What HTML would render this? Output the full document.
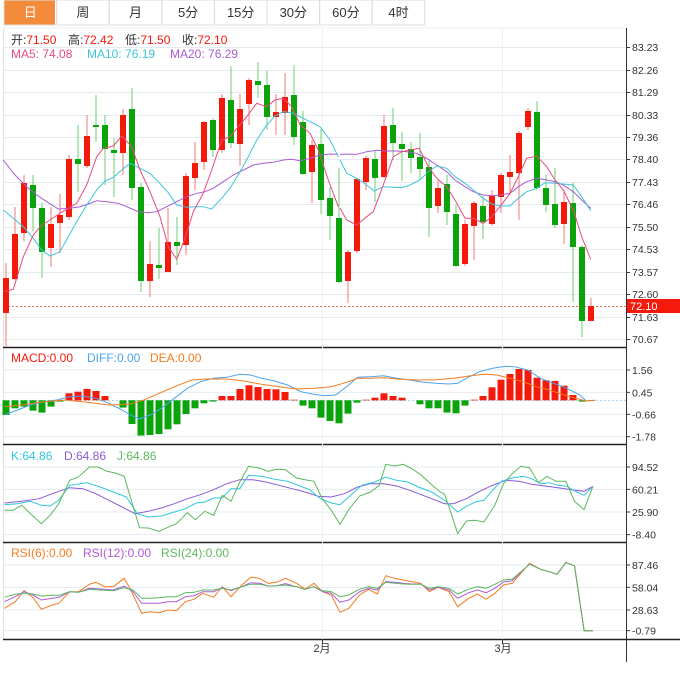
<!DOCTYPE html>
<html><head><meta charset="utf-8"><style>
body{margin:0;background:#fff;width:680px;height:669px;overflow:hidden;font-family:"Liberation Sans","Noto Sans CJK SC",sans-serif}
svg text{font-family:"Liberation Sans","Noto Sans CJK SC",sans-serif}
</style></head><body>
<svg id="s" width="680" height="669" xmlns="http://www.w3.org/2000/svg"></svg>
<script>
const S=document.getElementById('s');let h='';
function L(x1,y1,x2,y2,c,w,extra){h+=`<line x1="${x1}" y1="${y1}" x2="${x2}" y2="${y2}" stroke="${c}" stroke-width="${w||1}" ${extra||''}/>`;}
function R(x,y,w,hh,c){h+=`<rect x="${x}" y="${y}" width="${w}" height="${hh}" fill="${c}"/>`;}
function T(x,y,t,c,sz,anc){h+=`<text x="${x}" y="${y}" fill="${c}" font-size="${sz||11}" ${anc?'text-anchor="'+anc+'"':''}>${t}</text>`;}
function P(pts,c,fx,fy){h+=`<polyline fill="none" stroke="${c}" stroke-width="1" points="${pts.map(p=>fx(p[0]).toFixed(1)+','+fy(p[1]).toFixed(1)).join(' ')}"/>`;}
const tabs=['日','周','月','5分','15分','30分','60分','4时'];
R(4,0,421,25,'#fff');
tabs.forEach((t,i)=>{let x=4+i*52.6;if(i==0)R(x,0,51,25,'#f28b3c');
 h+=`<rect x="${x}" y="0" width="52.6" height="25" fill="none" stroke="#dcdcdc"/>`;
 T(x+26.3,17,t,i==0?'#fff':'#333',13,'middle');});
L(3.5,28,3.5,639,'#e0e0e0');L(3,28,626,28,'#e8eef3');
L(626.5,28,626.5,662,'#333');
L(3,347.5,626,347.5,'#222',1.5);L(3,444.5,626,444.5,'#222',1.5);L(3,542.5,626,542.5,'#222',1.5);L(3,639.5,680,639.5,'#222',1.5);
[322,502].forEach(x=>L(x+.5,28,x+.5,639,'#eef2f5'));
const pt=[['83.23',47],['82.26',70],['81.29',92],['80.33',115],['79.36',137],['78.40',159],['77.43',182],['76.46',204],['75.50',227],['74.53',249],['73.57',272],['72.60',294],['71.63',317],['70.67',339]];
pt.forEach(p=>{L(4,p[1]+.5,626,p[1]+.5,'#e3ebf1');L(626,p[1]+.5,630,p[1]+.5,'#333');T(632,p[1]+4,p[0],'#333',10.5);});
const C=[[278,313,263,347,'r'],[234,279,207,280,'r'],[183,233,175,241,'r'],[185,208,175,231,'g'],[208,252,203,278,'g'],[224,248,207,267,'r'],[215,223,194,253,'r'],[159,217,155,220,'r'],[159,164,125,192,'g'],[136,166,115,168,'r'],[125,127,95,142,'g'],[125,149,115,185,'g'],[150,153,138,197,'g'],[115,153,109,175,'r'],[109,188,88,200,'g'],[187,281,183,292,'g'],[264,281,241,297,'r'],[265,268,228,279,'g'],[242,272,208,272,'r'],[242,246,217,265,'g'],[176,245,173,255,'r'],[163,178,142,190,'r'],[122,162,121,170,'r'],[120,150,118,157,'g'],[98,150,94,153,'r'],[100,143,66,148,'g'],[109,144,94,166,'r'],[80,104,78,125,'r'],[81,85,62,98,'g'],[85,117,71,130,'g'],[112,117,94,135,'r'],[97,113,73,135,'r'],[95,137,65,145,'g'],[122,174,111,175,'g'],[145,172,140,203,'r'],[144,200,129,214,'g'],[198,216,187,240,'g'],[218,282,168,283,'g'],[252,281,250,303,'r'],[179,251,178,253,'r'],[158,182,156,190,'r'],[159,178,150,202,'g'],[126,177,115,178,'r'],[125,143,108,160,'g'],[144,149,132,181,'g'],[149,158,142,173,'g'],[157,169,133,180,'g'],[167,208,160,237,'g'],[188,206,180,213,'r'],[184,212,175,225,'g'],[214,266,205,267,'g'],[224,264,220,266,'r'],[203,226,201,260,'r'],[206,222,196,239,'g'],[196,224,190,226,'r'],[175,197,173,213,'r'],[172,177,155,195,'r'],[133,173,131,220,'r'],[111,127,108,130,'r'],[112,188,101,190,'g'],[188,205,175,212,'g'],[204,225,168,228,'g'],[202,224,190,244,'r'],[203,247,183,302,'g'],[247,321,245,337,'g'],[306,321,298,321,'r']];
const step=(591-6)/(C.length-1);
const cx=i=>6+i*step;
L(4,306.5,626,306.5,'#f06a5a',1,'stroke-dasharray="2,2"');
C.forEach((c,i)=>{const x=cx(i);const col=c[4]=='r'?'#f3190b':'#0aa30a',wc=c[4]=='r'?'#f47a70':'#6fcf6f';
 L(x.toFixed(1),c[2],x.toFixed(1),c[3],wc);R((x-3).toFixed(1),c[0],6,Math.max(1.5,c[1]-c[0]),col);});
const f2x=z=>z/3,f3x=z=>340+z/3,fy=z=>60+z/3;
const ma5a=[[15,695],[40,688],[70,590],[100,525],[125,495],[150,480],[180,460],[205,445],[230,430],[260,375],[290,290],[310,265],[340,258],[365,228],[395,260],[420,330],[450,395],[480,470],[505,560],[530,598],[555,535],[580,455],[610,400],[635,330],[665,240],[690,230],[715,200],[740,170],[770,130],[800,140],[825,120],[850,115],[875,140],[900,195],[930,220],[955,270],[985,360],[1015,440]];
const ma5b=[[0,445],[20,480],[50,495],[80,470],[100,455],[130,375],[160,290],[185,275],[210,270],[238,265],[265,320],[290,355],[320,380],[345,420],[375,475],[400,475],[430,490],[455,470],[480,440],[510,400],[535,350],[560,295],[590,288],[620,320],[645,360],[670,390],[700,450],[725,530],[752,598]];
const ma10a=[[10,450],[40,475],[70,500],[100,535],[125,570],[150,588],[180,575],[205,530],[230,485],[260,435],[290,390],[315,363],[340,352],[365,330],[390,310],[420,325],[450,340],[475,365],[505,398],[530,435],[560,442],[585,440],[610,440],[635,447],[665,415],[690,385],[720,335],[745,290],[770,240],[800,195],[825,168],[850,155],[875,158],[900,170],[930,185],[960,200],[990,240],[1015,290]];
const ma10b=[[0,300],[20,340],[50,355],[80,375],[103,393],[130,380],[160,382],[185,383],[210,375],[240,360],[265,335],[290,318],[320,325],[345,350],[375,370],[400,390],[430,415],[455,432],[480,438],[510,438],[535,415],[560,395],[590,385],[615,368],[645,370],[670,372],[700,375],[725,410],[752,452]];
const ma20a=[[10,300],[45,345],[80,380],[110,405],[145,428],[175,447],[210,445],[240,440],[265,432],[290,422],[320,425],[355,430],[380,440],[415,455],[445,458],[470,455],[500,440],[530,425],[560,410],[590,400],[615,395],[640,385],[670,365],[700,345],[730,330],[760,315],[790,310],[820,307],[850,300],[875,298],[900,302],[930,295],[960,285],[990,282],[1015,283]];
const ma20b=[[0,283],[20,283],[50,283],[80,275],[110,271],[140,273],[170,273],[200,275],[230,280],[260,295],[290,315],[320,335],[345,360],[375,380],[400,395],[430,405],[455,407],[480,405],[510,400],[535,380],[560,365],[590,355],[620,360],[645,365],[670,375],[700,395],[725,420],[752,445]];
P(ma20a,'#a85ad2',f2x,fy);P(ma20b,'#a85ad2',f3x,fy);
P(ma10a,'#3ec4da',f2x,fy);P(ma10b,'#3ec4da',f3x,fy);
P(ma5a,'#ea4a7e',f2x,fy);P(ma5b,'#ea4a7e',f3x,fy);
R(627,299,53,14,'#f3190b');T(630,310,'72.10','#fff',11);
h+=`<text y="44" font-size="12" fill="#333"><tspan x="11">开:</tspan><tspan fill="#f3190b">71.50</tspan><tspan x="68">高:</tspan><tspan fill="#f3190b">72.42</tspan><tspan x="125">低:</tspan><tspan fill="#f3190b">71.50</tspan><tspan x="182">收:</tspan><tspan fill="#f3190b">72.10</tspan></text>`;
h+=`<text y="58" font-size="12"><tspan x="11" fill="#ea4a7e">MA5: 74.08</tspan><tspan x="87" fill="#3ec4da">MA10: 76.19</tspan><tspan x="170" fill="#a85ad2">MA20: 76.29</tspan></text>`;
const zx=z=>z/2.294;
const my=z=>345+z/3;
[['1.56',75],['0.45',142],['-0.66',208],['-1.78',275]].forEach(p=>{const y=my(p[1]);L(4,y,626,y,'#e3ebf1');L(626,y,630,y,'#333');T(632,y+4,p[0],'#333',10.5);});
L(4,my(166),626,my(166),'#9fd3e8',1,'stroke-dasharray="2,2"');
const hv=[210,190,185,197,203,185,170,145,140,132,138,153,166,188,237,272,270,267,253,238,207,190,175,170,153,153,132,121,126,132,133,141,164,182,190,218,228,235,206,173,164,158,145,153,158,166,178,190,190,203,205,182,164,153,127,104,87,72,75,98,106,108,122,150,170,168];
hv.forEach((v,i)=>{const x=cx(i)-3.5,y0=my(166),y1=my(v);if(Math.abs(v-166)<1)return;R(x.toFixed(1),Math.min(y0,y1).toFixed(1),7,Math.abs(y1-y0).toFixed(1),v<166?'#f3190b':'#0aa30a');});
P([[10,210],[40,195],[70,180],[100,170],[130,165],[160,155],[190,153],[220,160],[250,175],[280,195],[300,210],[320,222],[345,210],[370,190],[400,160],[430,130],[460,110],[490,100],[520,97],[550,88],[575,90],[600,100],[630,108],[660,120],[690,140],[720,148],[745,152],[770,150],[800,120],[820,97],[850,95],[880,92],[910,100],[940,105],[970,112],[1000,115],[1030,117],[1050,115],[1070,100],[1100,80],[1130,70],[1160,64],[1180,65],[1210,75],[1240,100],[1270,115],[1300,130],[1330,150],[1345,168],[1365,166]],'#4da3f0',zx,my);
P([[10,185],[50,180],[100,170],[150,165],[200,172],[250,180],[300,177],[330,165],[360,148],[400,125],[440,105],[470,102],[520,102],[560,108],[600,118],[640,125],[680,132],[720,130],[760,125],[800,110],[820,100],[850,100],[880,98],[920,103],[960,105],[1000,104],[1040,100],[1080,92],[1110,88],[1140,90],[1170,100],[1200,110],[1230,125],[1260,135],[1290,148],[1320,160],[1345,168],[1365,166]],'#f57c1f',zx,my);
h+=`<text y="362" font-size="12"><tspan x="11" fill="#f3190b">MACD:0.00</tspan><tspan x="87" fill="#4da3f0">DIFF:0.00</tspan><tspan x="150" fill="#f57c1f">DEA:0.00</tspan></text>`;
const ky=z=>442+z/3;
[['94.52',75],['60.21',142],['25.90',210],['-8.40',278]].forEach(p=>{const y=ky(p[1]);L(4,y,626,y,'#e3ebf1');L(626,y,630,y,'#333');T(632,y+4,p[0],'#333',10.5);});
P([[10,183],[50,178],[90,170],[120,155],[160,137],[190,140],[220,155],[250,175],[280,195],[310,215],[340,208],[370,198],[400,185],[430,170],[460,158],[490,143],[520,125],[550,113],[580,113],[610,120],[640,130],[670,140],[700,150],[730,163],[760,165],[790,155],[820,135],[850,125],[880,125],[910,132],[940,145],[970,160],[1000,175],[1020,185],[1040,185],[1070,170],[1100,148],[1130,130],[1160,115],[1190,118],[1220,127],[1250,132],[1280,137],[1310,143],[1340,148],[1360,133]],'#8a5ad6',zx,ky);
P([[10,188],[40,185],[70,178],[95,190],[115,192],[135,175],[160,130],[200,122],[230,135],[260,150],[290,165],[315,215],[340,225],[370,222],[400,210],[425,200],[450,183],[470,180],[490,168],[510,168],[530,140],[550,140],[570,100],[600,103],[630,112],[660,118],[690,133],[710,143],[735,170],[760,183],[780,188],[800,165],[830,130],[860,120],[885,105],[910,115],[935,120],[960,135],[990,150],[1020,175],[1050,210],[1070,193],[1090,180],[1110,175],[1130,145],[1150,118],[1175,108],[1200,103],[1220,110],[1240,125],[1260,122],[1280,130],[1300,133],[1320,148],[1340,160],[1360,133]],'#2ec7dc',zx,ky);
P([[10,205],[30,205],[50,190],[70,215],[95,245],[115,220],[135,185],[160,115],[180,105],[205,75],[225,75],[245,88],[265,93],[285,103],[320,257],[340,258],[365,268],[390,253],[405,245],[430,212],[448,233],[470,208],[490,220],[510,160],[530,178],[550,120],[570,73],[595,78],[615,88],[635,82],[655,83],[680,108],[700,113],[720,118],[740,172],[760,205],[780,247],[800,203],[825,162],[850,150],[870,130],[885,67],[905,72],[925,67],[945,80],[965,98],[990,128],[1010,150],[1020,157],[1030,195],[1050,275],[1070,237],[1090,235],[1110,240],[1135,190],[1155,125],[1175,95],[1195,73],[1215,77],[1235,122],[1255,103],[1275,118],[1298,118],[1318,178],[1340,203],[1360,133]],'#5cb85c',zx,ky);
h+=`<text y="460" font-size="12"><tspan x="11" fill="#2ec7dc">K:64.86</tspan><tspan x="64" fill="#8a5ad6">D:64.86</tspan><tspan x="117" fill="#5cb85c">J:64.86</tspan></text>`;
const ry=z=>540+z/3;
[['87.46',75],['58.04',142],['28.63',210],['-0.79',272]].forEach(p=>{const y=ry(p[1]);L(4,y,626,y,'#e3ebf1');L(626,y,630,y,'#333');T(632,y+4,p[0],'#333',10.5);});
P([[10,205],[35,185],[55,152],[75,172],[95,208],[120,195],[135,190],[160,155],[180,155],[205,133],[220,127],[240,140],[260,140],[285,115],[300,150],[325,220],[345,215],[365,218],[385,210],[405,212],[425,185],[445,178],[465,160],[490,172],[510,140],[530,170],[555,135],[575,112],[595,115],[615,130],[635,127],[655,115],[680,130],[700,147],[720,130],[740,155],[760,165],[780,217],[800,205],[825,165],[845,148],[865,162],[885,107],[905,115],[925,120],[945,125],[965,130],[985,155],[1005,142],[1030,155],[1050,200],[1075,175],[1095,162],[1115,178],[1135,160],[1155,135],[1175,130],[1195,100],[1215,70],[1240,88],[1260,95],[1278,103],[1298,67],[1318,77],[1340,272],[1360,272]],'#f57c1f',zx,ry);
P([[10,185],[35,170],[55,155],[75,165],[95,180],[120,175],[135,172],[160,155],[180,157],[205,145],[230,147],[260,150],[285,138],[305,155],[325,190],[345,190],[365,190],[385,185],[405,185],[425,170],[445,167],[465,155],[490,155],[510,143],[530,152],[555,140],[575,128],[595,130],[615,138],[635,137],[655,131],[680,140],[700,148],[720,140],[740,155],[760,160],[780,187],[800,180],[825,155],[845,145],[865,150],[885,125],[905,127],[925,130],[945,132],[965,132],[985,150],[1005,142],[1030,150],[1050,175],[1075,158],[1095,150],[1115,158],[1135,145],[1155,126],[1175,122],[1195,97],[1215,72],[1240,88],[1260,95],[1278,103],[1298,68],[1318,77],[1340,272],[1360,272]],'#b05ad6',zx,ry);
P([[10,172],[35,163],[55,160],[75,162],[95,168],[120,166],[135,166],[160,155],[180,157],[205,148],[230,150],[260,152],[285,143],[305,150],[325,175],[345,175],[365,173],[385,170],[405,170],[425,158],[445,157],[465,150],[490,150],[510,145],[530,150],[555,140],[575,133],[595,133],[615,138],[635,137],[655,135],[680,140],[700,148],[720,140],[740,152],[760,155],[780,170],[800,165],[825,148],[845,140],[865,145],[885,127],[905,130],[925,132],[945,133],[965,133],[985,145],[1005,140],[1030,145],[1050,162],[1075,148],[1095,140],[1115,145],[1135,133],[1155,120],[1175,118],[1195,95],[1215,73],[1240,88],[1260,95],[1278,103],[1298,68],[1318,77],[1340,272],[1360,272]],'#5cb85c',zx,ry);
h+=`<text y="557" font-size="12"><tspan x="11" fill="#f57c1f">RSI(6):0.00</tspan><tspan x="83" fill="#b05ad6">RSI(12):0.00</tspan><tspan x="161" fill="#5cb85c">RSI(24):0.00</tspan></text>`;
L(322.5,639,322.5,644,'#333');L(502.5,639,502.5,644,'#333');
T(322,652,'2月','#333',11,'middle');T(503,652,'3月','#333',11,'middle');
S.innerHTML=h;
</script>
</body></html>
